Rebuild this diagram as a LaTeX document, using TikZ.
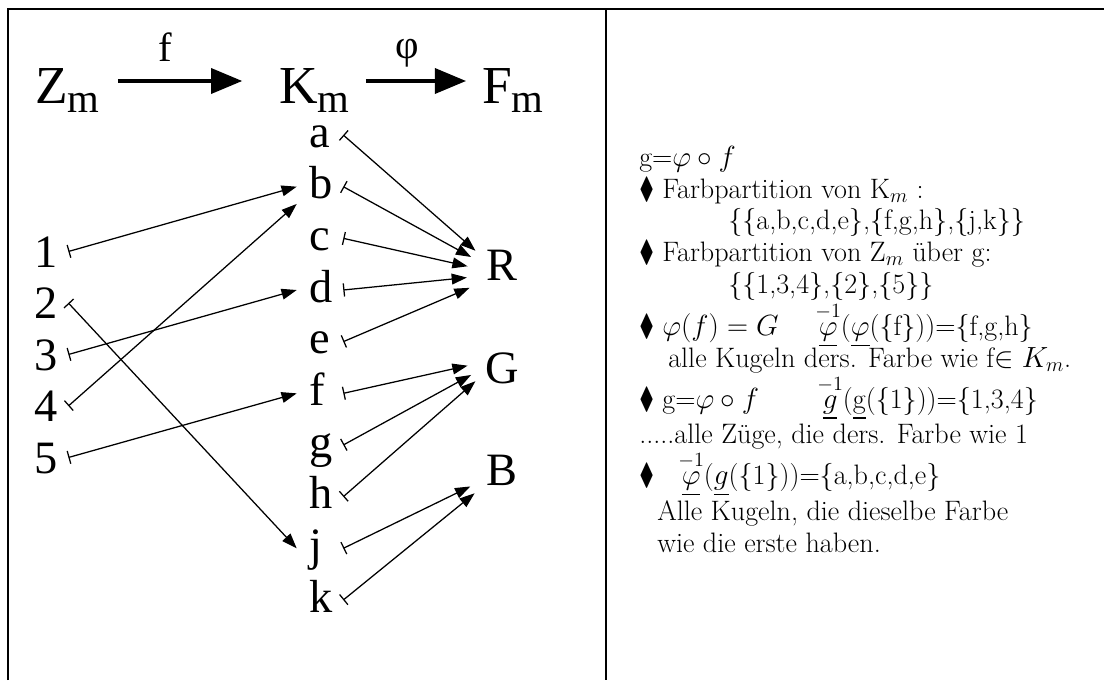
\documentclass[tikz,border=0pt]{standalone}
\usepackage{amsmath,amssymb}
\usepackage{graphicx}
\usepackage[no-math]{fontspec}
\setmainfont{Liberation Serif}
\newfontfamily\lmfont{Latin Modern Roman}
\usetikzlibrary{arrows.meta}
\newcommand{\lowm}{\raisebox{-0.225cm}{\fontsize{29}{30}\selectfont m}}
\newcommand{\dia}{\scalebox{0.78}[1.08]{$\blacklozenge$}}

\begin{document}
\begin{tikzpicture}[x=1cm,y=1cm,>=Latex,
  setnode/.style={font=\fontsize{38}{40}\selectfont, inner xsep=0.4cm, inner ysep=0pt, text height=1.35cm, text depth=0.25cm},
  lab/.style={font=\fontsize{29}{30}\selectfont, inner sep=0pt},
  elem/.style={font=\fontsize{33}{34}\selectfont, text width=0.55cm, align=left, inner xsep=0.3cm, inner ysep=0.125cm, text height=0.6cm, text depth=0pt},
  num/.style={font=\fontsize{33}{34}\selectfont, inner xsep=0.25cm, inner ysep=0.1cm, text height=0.775cm, text depth=0pt},
  colour/.style={circle, minimum size=1.75cm, inner sep=0pt, font=\fontsize{33}{34}\selectfont, text depth=0pt},
  bigarrow/.style={line width=2.3pt, -{Triangle[length=0.78cm,width=0.63cm]}},
  mapsto/.style={line width=0.9pt, {Bar[width=0.33cm]}-{Triangle[length=0.38cm,width=0.27cm]}}]
\useasboundingbox (0,0) rectangle (27.6,-17);
% frame
\draw[line width=1.4pt] (0.2,-17) -- (0.2,-0.225) -- (27.6,-0.225);
\draw[line width=1.4pt] (15.15,-0.225) -- (15.15,-17);
% Z_m -> K_m -> F_m
\node[setnode, anchor=base west] (Zm) at (0.475,-2.575) {Z\lowm};
\node[setnode, anchor=base west] (Km) at (6.575,-2.575) {K\lowm};
\node[setnode, anchor=base west] (Fm) at (11.65,-2.575) {F\lowm};
\draw[bigarrow, shorten <=0.05cm, shorten >=0.52cm] (Zm) -- (Km);
\draw[bigarrow] (Km) -- (Fm);
\node[lab, anchor=base] (fl) at (4.125,-1.525) {f};
\node[lab, anchor=base] (phil) at (10.175,-1.45) {φ};
% balls and draws
\foreach \l [count=\i from 0] in {a,b,c,d,e,f,g,h,j,k}
  \node[elem] (\l) at (8.0,{-3.375-1.2917*\i}) {\l};
\foreach \n in {1,...,5}
  \node[num] (n\n) at (1.1625,{-6.2875-1.2875*(\n-1)}) {\n};
\node[colour, text height=0.3cm] (R) at (12.55,-6.85) {R};
\node[colour, text height=1.25cm] (G) at (12.55,-8.95) {G};
\node[colour, text height=0.7cm] (B) at (12.55,-11.775) {B};
% f
\draw[mapsto] (n1.east) -- (b.west);
\draw[mapsto] (n2.east) -- (j.west);
\draw[mapsto] (n3.east) -- (d.west);
\draw[mapsto] (n4.east) -- (b.south west);
\draw[mapsto] (n5.east) -- (f.west);
% phi
\foreach \s in {a,b,c,d,e} \draw[mapsto] (\s.east) -- (R);
\foreach \s in {f,g,h} \draw[mapsto] (\s.east) -- (G);
\foreach \s in {j,k} \draw[mapsto] (\s.east) -- (B);
% notes
\node[anchor=north west, align=left, inner sep=0pt, font=\lmfont\fontsize{20}{22.5}\selectfont] (notes) at (15.975,-3.65) {%
g=$\varphi\circ f$\\
\dia{} Farbpartition von K$_m$ :\\
\hspace*{2.225cm}\{\{a,b,c,d,e\},\{f,g,h\},\{j,k\}\}\\
\dia{} Farbpartition von Z$_m$ über g:\\
\hspace*{2.225cm}\{\{1,3,4\},\{2\},\{5\}\}\\
\makebox[4.4cm][l]{\dia{} $\varphi(f)=G$}$\overset{-1}{\underline{\varphi}}$($\underline{\varphi}$(\{f\}))=\{f,g,h\}\\
\hspace*{0.725cm}alle Kugeln ders. Farbe wie f$\in K_m$.\\
\makebox[4.45cm][l]{\dia{} g=$\varphi\circ f$}$\overset{-1}{\underline{g}}$(\underline{g}(\{1\}))=\{1,3,4\}\\[2.5pt]
.....alle Züge, die ders. Farbe wie 1\\
\makebox[0.975cm][l]{\dia}$\overset{-1}{\underline{\varphi}}$($\underline{g}$(\{1\}))=\{a,b,c,d,e\}\\[3pt]
\hspace*{0.45cm}Alle Kugeln, die dieselbe Farbe\\
\hspace*{0.45cm}wie die erste haben.};
\end{tikzpicture}
\end{document}
